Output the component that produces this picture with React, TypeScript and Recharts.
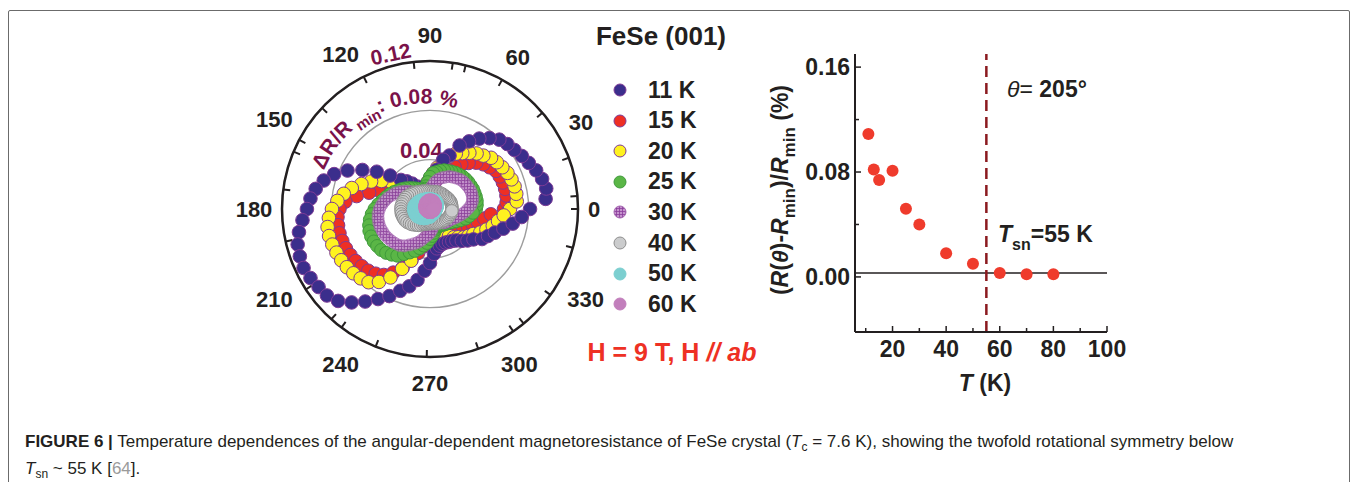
import React from 'react';
import {
  RadarChart,
  Radar,
  PolarGrid,
  PolarAngleAxis,
  PolarRadiusAxis,
  ScatterChart,
  Scatter,
  XAxis,
  YAxis,
  ReferenceLine,
} from 'recharts';

// angle of each measurement (degrees)
const angles = [
  0, 5, 10, 15, 20, 25, 30, 35, 40, 45, 50, 55,
  60, 65, 70, 75, 80, 85, 90, 95, 100, 105, 110, 115,
  120, 125, 130, 135, 140, 145, 150, 155, 160, 165, 170, 175,
  180, 185, 190, 195, 200, 205, 210, 215, 220, 225, 230, 235,
  240, 245, 250, 255, 260, 265, 270, 275, 280, 285, 290, 295,
  300, 305, 310, 315, 320, 325, 330, 335, 340, 345, 350, 355,
];

// ΔR/Rmin (%) per temperature
const mr11K = [
  0.0811, 0.0941, 0.0957, 0.0941, 0.0916, 0.0884, 0.0860, 0.0835, 0.0819, 0.0795, 0.0750, 0.0697,
  0.0633, 0.0568, 0.0462, 0.0414, 0.0324, 0.0260, 0.0178, 0.0138, 0.0122, 0.0130, 0.0146, 0.0178,
  0.0211, 0.0251, 0.0292, 0.0333, 0.0422, 0.0527, 0.0633, 0.0738, 0.0827, 0.0892, 0.0941, 0.0973,
  0.0998, 0.1038, 0.1079, 0.1111, 0.1123, 0.1131, 0.1119, 0.1103, 0.1091, 0.1054, 0.0989, 0.0916,
  0.0843, 0.0779, 0.0706, 0.0649, 0.0584, 0.0503, 0.0438, 0.0365, 0.0324, 0.0308, 0.0300, 0.0300,
  0.0308, 0.0316, 0.0333, 0.0365, 0.0397, 0.0430, 0.0487, 0.0519, 0.0560, 0.0616, 0.0681, 0.0746,
];
const mr15K = [
  0.0600, 0.0624, 0.0629, 0.0631, 0.0629, 0.0624, 0.0618, 0.0590, 0.0564, 0.0531, 0.0487, 0.0442,
  0.0397, 0.0349, 0.0300, 0.0260, 0.0219, 0.0187, 0.0162, 0.0146, 0.0138, 0.0134, 0.0138, 0.0142,
  0.0146, 0.0154, 0.0166, 0.0182, 0.0211, 0.0235, 0.0300, 0.0373, 0.0446, 0.0511, 0.0604, 0.0689,
  0.0734, 0.0753, 0.0757, 0.0760, 0.0757, 0.0753, 0.0745, 0.0736, 0.0722, 0.0708, 0.0685, 0.0653,
  0.0596, 0.0527, 0.0442, 0.0369, 0.0308, 0.0268, 0.0235, 0.0223, 0.0219, 0.0223, 0.0227, 0.0231,
  0.0239, 0.0247, 0.0255, 0.0268, 0.0280, 0.0292, 0.0312, 0.0341, 0.0369, 0.0401, 0.0446, 0.0495,
];
const mr20K = [
  0.0649, 0.0706, 0.0710, 0.0710, 0.0703, 0.0693, 0.0677, 0.0661, 0.0646, 0.0612, 0.0588, 0.0556,
  0.0523, 0.0495, 0.0454, 0.0397, 0.0341, 0.0292, 0.0251, 0.0219, 0.0195, 0.0182, 0.0178, 0.0187,
  0.0203, 0.0219, 0.0235, 0.0276, 0.0324, 0.0381, 0.0454, 0.0527, 0.0592, 0.0657, 0.0710, 0.0754,
  0.0795, 0.0823, 0.0843, 0.0847, 0.0843, 0.0837, 0.0831, 0.0823, 0.0811, 0.0795, 0.0775, 0.0722,
  0.0641, 0.0535, 0.0446, 0.0333, 0.0260, 0.0219, 0.0203, 0.0195, 0.0195, 0.0199, 0.0207, 0.0215,
  0.0235, 0.0268, 0.0300, 0.0324, 0.0357, 0.0381, 0.0406, 0.0450, 0.0487, 0.0527, 0.0560, 0.0600,
];
const mr25K = [
  0.0373, 0.0381, 0.0385, 0.0385, 0.0384, 0.0384, 0.0381, 0.0380, 0.0377, 0.0373, 0.0365, 0.0359,
  0.0349, 0.0341, 0.0334, 0.0320, 0.0304, 0.0292, 0.0260, 0.0219, 0.0187, 0.0170, 0.0162, 0.0170,
  0.0187, 0.0203, 0.0219, 0.0239, 0.0260, 0.0280, 0.0300, 0.0324, 0.0349, 0.0369, 0.0393, 0.0422,
  0.0450, 0.0474, 0.0495, 0.0511, 0.0523, 0.0527, 0.0527, 0.0523, 0.0517, 0.0503, 0.0483, 0.0462,
  0.0422, 0.0389, 0.0361, 0.0328, 0.0300, 0.0276, 0.0243, 0.0219, 0.0195, 0.0174, 0.0162, 0.0154,
  0.0154, 0.0158, 0.0166, 0.0174, 0.0182, 0.0191, 0.0211, 0.0235, 0.0264, 0.0300, 0.0324, 0.0349,
];
const mr30K = [
  0.0308, 0.0333, 0.0349, 0.0357, 0.0361, 0.0361, 0.0357, 0.0353, 0.0349, 0.0341, 0.0328, 0.0316,
  0.0304, 0.0284, 0.0268, 0.0247, 0.0219, 0.0187, 0.0154, 0.0130, 0.0114, 0.0105, 0.0105, 0.0114,
  0.0130, 0.0150, 0.0170, 0.0195, 0.0223, 0.0251, 0.0280, 0.0308, 0.0328, 0.0353, 0.0373, 0.0393,
  0.0410, 0.0422, 0.0428, 0.0430, 0.0430, 0.0426, 0.0422, 0.0414, 0.0406, 0.0397, 0.0385, 0.0365,
  0.0337, 0.0312, 0.0288, 0.0260, 0.0231, 0.0211, 0.0195, 0.0170, 0.0146, 0.0130, 0.0122, 0.0122,
  0.0126, 0.0134, 0.0146, 0.0158, 0.0166, 0.0174, 0.0182, 0.0195, 0.0215, 0.0235, 0.0260, 0.0284,
];
const mr40K = [
  0.0178, 0.0178, 0.0178, 0.0178, 0.0178, 0.0174, 0.0170, 0.0166, 0.0162, 0.0158, 0.0158, 0.0154,
  0.0154, 0.0150, 0.0146, 0.0146, 0.0142, 0.0142, 0.0142, 0.0142, 0.0146, 0.0150, 0.0154, 0.0158,
  0.0162, 0.0170, 0.0178, 0.0187, 0.0195, 0.0203, 0.0211, 0.0219, 0.0223, 0.0227, 0.0231, 0.0235,
  0.0235, 0.0235, 0.0235, 0.0231, 0.0227, 0.0223, 0.0215, 0.0203, 0.0195, 0.0182, 0.0170, 0.0162,
  0.0150, 0.0138, 0.0130, 0.0126, 0.0122, 0.0118, 0.0118, 0.0118, 0.0118, 0.0118, 0.0122, 0.0126,
  0.0130, 0.0134, 0.0138, 0.0142, 0.0146, 0.0154, 0.0158, 0.0162, 0.0166, 0.0170, 0.0174, 0.0178,
];
const mr50K = [
  0.0049, 0.0053, 0.0057, 0.0057, 0.0061, 0.0065, 0.0065, 0.0069, 0.0073, 0.0077, 0.0077, 0.0081,
  0.0081, 0.0081, 0.0081, 0.0081, 0.0081, 0.0081, 0.0081, 0.0081, 0.0081, 0.0085, 0.0085, 0.0089,
  0.0089, 0.0093, 0.0097, 0.0101, 0.0105, 0.0109, 0.0114, 0.0118, 0.0122, 0.0126, 0.0130, 0.0130,
  0.0130, 0.0130, 0.0130, 0.0126, 0.0126, 0.0122, 0.0122, 0.0114, 0.0109, 0.0105, 0.0097, 0.0093,
  0.0089, 0.0081, 0.0077, 0.0073, 0.0069, 0.0065, 0.0065, 0.0061, 0.0057, 0.0053, 0.0053, 0.0049,
  0.0049, 0.0049, 0.0045, 0.0045, 0.0045, 0.0045, 0.0045, 0.0045, 0.0045, 0.0045, 0.0049, 0.0049,
];
const mr60K = [
  0.0032, 0.0032, 0.0036, 0.0036, 0.0041, 0.0041, 0.0045, 0.0049, 0.0049, 0.0053, 0.0057, 0.0057,
  0.0061, 0.0065, 0.0065, 0.0069, 0.0069, 0.0069, 0.0069, 0.0069, 0.0069, 0.0065, 0.0065, 0.0061,
  0.0061, 0.0057, 0.0053, 0.0049, 0.0049, 0.0045, 0.0041, 0.0041, 0.0036, 0.0036, 0.0036, 0.0036,
  0.0036, 0.0032, 0.0032, 0.0032, 0.0032, 0.0028, 0.0028, 0.0028, 0.0024, 0.0024, 0.0024, 0.0024,
  0.0024, 0.0024, 0.0024, 0.0024, 0.0024, 0.0024, 0.0024, 0.0024, 0.0024, 0.0024, 0.0024, 0.0024,
  0.0024, 0.0024, 0.0024, 0.0024, 0.0024, 0.0024, 0.0024, 0.0028, 0.0028, 0.0028, 0.0028, 0.0032,
];

const angleTicks = [0, 30, 60, 90, 120, 150, 180, 210, 240, 270, 300, 330];
const angleMinorTicks = [
  0, 15, 30, 45, 60, 75, 90, 105, 120, 135, 150, 165,
  180, 195, 210, 225, 240, 255, 270, 285, 300, 315, 330, 345,
];
const radiusTicks = [0.04, 0.08, 0.12];
const radiusDashTicks = [0.06, 0.1];

// right panel: anisotropy at theta = 205 deg vs temperature
const temps = [11, 13, 15, 20, 25, 30, 40, 50, 60, 70, 80];
const anisotropy = [0.109, 0.082, 0.074, 0.081, 0.052, 0.040, 0.018, 0.010, 0.003, 0.002, 0.002];
const xTicks = [10, 20, 30, 40, 50, 60, 70, 80, 90, 100];
const xLabels = [20, 40, 60, 80, 100];
const yTicks = [0, 0.04, 0.08, 0.12, 0.16];
const yLabels = [0, 0.08, 0.16];

const FONT = '"Liberation Sans", Arial, Helvetica, sans-serif';
const INK = '#231f20';
const MAROON = '#7a1249';
const RED = '#ee3124';

const SERIES = [
  { key: 'k11', name: '11 K', values: mr11K, fill: '#3b2e8c', stroke: '#7d3b96', r: 6.8 },
  { key: 'k15', name: '15 K', values: mr15K, fill: '#ee2f24', stroke: '#7d3b96', r: 6.8 },
  { key: 'k20', name: '20 K', values: mr20K, fill: '#fff21f', stroke: '#7d3b96', r: 6.8 },
  { key: 'k25', name: '25 K', values: mr25K, fill: '#5ab646', stroke: '#3f9a3b', r: 6.5 },
  { key: 'k30', name: '30 K', values: mr30K, fill: 'url(#hatch30)', stroke: '#a466b0', r: 6 },
  { key: 'k40', name: '40 K', values: mr40K, fill: '#cbcccd', stroke: '#8e8e8e', r: 6.3 },
  { key: 'k50', name: '50 K', values: mr50K, fill: '#7ccfd0', stroke: '#7ccfd0', r: 6.3 },
  { key: 'k60', name: '60 K', values: mr60K, fill: '#c27fbc', stroke: '#c27fbc', r: 6.5 },
];
const drawOrder = ['k15', 'k20', 'k11', 'k25', 'k30', 'k40', 'k50', 'k60'];

const polarData = angles.map((angle, i) => {
  const row: any = { angle };
  SERIES.forEach((s) => {
    row[s.key] = s.values[i];
  });
  return row;
});

const scatterData = temps.map((T, i) => ({ T, v: anisotropy[i] }));

// polar chart geometry (local to its svg)
const PCX = 200;
const PCY = 200;
const PR = 148;

const polarPoint = (r: number, deg: number) => {
  const a = (deg * Math.PI) / 180;
  return { x: PCX + r * Math.cos(a), y: PCY - r * Math.sin(a) };
};

const makeDot = (s: any) => (props: any) => {
  const { cx, cy, index } = props;
  if (cx == null || cy == null || Number.isNaN(cx)) return <g key={`${s.key}-${index}`} />;
  return (
    <circle
      key={`${s.key}-${index}`}
      cx={cx}
      cy={cy}
      r={s.r}
      fill={s.fill}
      stroke={s.stroke}
      strokeWidth={1}
      opacity={s.key === 'k30' ? 0.75 : 1}
    />
  );
};

const AngleTick = (props: any) => {
  const v = props.payload?.value;
  const label = String(v);
  const a = (v * Math.PI) / 180;
  const s = Math.abs(Math.sin(a));
  const rr = PR + 10 + label.length * 6 * Math.abs(Math.cos(a)) + 12 * s + 4 * Math.pow(s, 8);
  const p = polarPoint(rr, v);
  return (
    <text x={p.x} y={p.y} dy="0.36em" textAnchor="middle" fontSize={22} fontWeight="bold" fill={INK} fontFamily={FONT}>
      {label}
    </text>
  );
};

const RadiusTick = (props: any) => {
  const { x, y, payload } = props;
  const v = payload.value;
  const r = Math.hypot(x - PCX, y - PCY);
  if (Math.abs(v - 0.08) < 1e-6) {
    // the "ΔR/Rmin : 0.08 %" caption runs along the 0.08 ring, starting a bit further out
    const p0 = polarPoint(r + 14, 160);
    const p1 = polarPoint(r + 4, 66);
    const ra = r + 8;
    return (
      <g>
        <path id="ratioArc" d={`M ${p0.x} ${p0.y} A ${ra} ${ra} 0 0 1 ${p1.x} ${p1.y}`} fill="none" stroke="none" />
        <text fontSize={21} fontWeight="bold" fill={MAROON} fontFamily={FONT}>
          <textPath href="#ratioArc">
            ΔR/R
            <tspan fontSize={15} dy={6}> min</tspan>
            <tspan dy={-6}>: 0.08 %</tspan>
          </textPath>
        </text>
      </g>
    );
  }
  if (Math.abs(v - 0.12) < 1e-6) {
    const tx = x - 12;
    const ty = y - 2;
    return (
      <text x={tx} y={ty} textAnchor="middle" fontSize={21} fontWeight="bold" fill={MAROON} fontFamily={FONT} transform={`rotate(-12 ${tx} ${ty})`}>
        0.12
      </text>
    );
  }
  return (
    <text x={x} y={y - 2} textAnchor="middle" fontSize={22} fontWeight="bold" fill={MAROON} fontFamily={FONT}>
      {v.toFixed(2)}
    </text>
  );
};

const near = (list: number[], v: number) => list.some((m) => Math.abs(m - v) < 1e-9);

const LeftTick = (props: any) => {
  const { x, y, payload } = props;
  const v = payload.value;
  const ax = x + 5;
  const major = near(yLabels, v);
  return (
    <g>
      <line x1={ax} x2={ax + (major ? 6 : 4)} y1={y} y2={y} stroke={INK} strokeWidth={1.5} />
      {major && (
        <text x={x} y={y} dy="0.36em" textAnchor="end" fontSize={23} fontWeight="bold" fill={INK} fontFamily={FONT}>
          {v.toFixed(2)}
        </text>
      )}
    </g>
  );
};

const RightTick = (props: any) => {
  const { x, y, payload } = props;
  const major = near(yLabels, payload.value);
  return <line x1={x} x2={x - (major ? 6 : 4)} y1={y} y2={y} stroke={INK} strokeWidth={1.5} />;
};

const BottomTick = (props: any) => {
  const { x, y, payload } = props;
  const v = payload.value;
  const ay = y - 7.5;
  const major = near(xLabels, v);
  return (
    <g>
      <line x1={x} x2={x} y1={ay} y2={ay - (major ? 6 : 4)} stroke={INK} strokeWidth={1.5} />
      {major && (
        <text x={x} y={y} dy="0.75em" textAnchor="middle" fontSize={23} fontWeight="bold" fill={INK} fontFamily={FONT}>
          {v}
        </text>
      )}
    </g>
  );
};

const TopTick = (props: any) => {
  const { x, y, payload } = props;
  const major = near(xLabels, payload.value);
  return <line x1={x} x2={x} y1={y} y2={y + (major ? 6 : 4)} stroke={INK} strokeWidth={1.5} />;
};

const PolarPanel = () => (
  <RadarChart
    width={400}
    height={400}
    cx={PCX}
    cy={PCY}
    outerRadius={PR}
    startAngle={0}
    endAngle={360}
    data={polarData}
    margin={{ top: 0, right: 0, bottom: 0, left: 0 }}
  >
    <PolarGrid gridType="circle" radialLines={false} stroke="#9d9d9d" strokeWidth={1.4} />
    <PolarGrid gridType="circle" radialLines={false} radiusAxisId="dash" stroke="#c2c2c2" strokeWidth={1.4} strokeDasharray="6 5" />
    <PolarRadiusAxis
      type="number"
      domain={[0, 0.12]}
      ticks={radiusTicks}
      angle={100}
      axisLine={false}
      tickLine={false}
      tick={<RadiusTick />}
    />
    <PolarRadiusAxis
      radiusAxisId="dash"
      type="number"
      domain={[0, 0.12]}
      ticks={radiusDashTicks}
      axisLine={false}
      tickLine={false}
      tick={false}
    />
    {drawOrder.map((k) => {
      const s = SERIES.find((x) => x.key === k)!;
      return (
        <Radar
          key={s.key}
          name={s.name}
          dataKey={s.key}
          stroke="none"
          fill="none"
          fillOpacity={0}
          dot={makeDot(s)}
          activeDot={false}
          isAnimationActive={false}
        />
      );
    })}
    <PolarAngleAxis
      dataKey="angle"
      type="number"
      domain={[0, 360]}
      ticks={angleTicks}
      tickLine={false}
      axisLineType="circle"
      axisLine={{ stroke: INK, strokeWidth: 2.5 }}
      tick={<AngleTick />}
    />
    <PolarAngleAxis
      angleAxisId="minor"
      type="number"
      domain={[0, 360]}
      ticks={angleMinorTicks}
      orientation="inner"
      tickSize={7}
      axisLine={false}
      tickLine={{ stroke: INK, strokeWidth: 2 }}
      tick={false}
    />
  </RadarChart>
);

const TemperaturePanel = () => (
  <ScatterChart width={390} height={322} margin={{ top: 14, right: 43, bottom: 0, left: 0 }}>
    <XAxis
      dataKey="T"
      type="number"
      domain={[6, 100]}
      ticks={xTicks}
      height={30}
      tickSize={0}
      tickMargin={7.5}
      tickLine={false}
      axisLine={{ stroke: INK, strokeWidth: 2 }}
      tick={<BottomTick />}
      interval={0}
    />
    <XAxis
      xAxisId="top"
      orientation="top"
      type="number"
      domain={[6, 100]}
      ticks={xTicks}
      height={0}
      tickSize={0}
      tickMargin={0}
      tickLine={false}
      axisLine={{ stroke: INK, strokeWidth: 2 }}
      tick={<TopTick />}
      interval={0}
    />
    <YAxis
      dataKey="v"
      type="number"
      domain={[-0.042, 0.17]}
      ticks={yTicks}
      width={95}
      tickSize={0}
      tickMargin={5}
      tickLine={false}
      axisLine={{ stroke: INK, strokeWidth: 2 }}
      tick={<LeftTick />}
      interval={0}
    />
    <YAxis
      yAxisId="right"
      orientation="right"
      type="number"
      domain={[-0.042, 0.17]}
      ticks={yTicks}
      width={0}
      tickSize={0}
      tickMargin={0}
      tickLine={false}
      axisLine={{ stroke: INK, strokeWidth: 2 }}
      tick={<RightTick />}
      interval={0}
    />
    <ReferenceLine y={0.003} stroke={INK} strokeWidth={1.5} />
    <ReferenceLine x={55} stroke="#8b1a1f" strokeWidth={2.5} strokeDasharray="11 6" />
    <Scatter
      data={scatterData}
      fill="#ef3b2c"
      isAnimationActive={false}
      shape={(p: any) => <circle cx={p.cx} cy={p.cy} r={6} fill="#ef3b2c" />}
    />
  </ScatterChart>
);

const Legend = () => (
  <div style={{ position: 'absolute', left: 610, top: 75 }}>
    {SERIES.map((s, i) => (
      <div
        key={s.key}
        style={{ position: 'absolute', left: 0, top: i * 30.6, height: 30, display: 'flex', alignItems: 'center', whiteSpace: 'nowrap' }}
      >
        <svg width={20} height={20}>
          <circle cx={10} cy={10} r={6} fill={s.fill} stroke={s.stroke} strokeWidth={1} />
        </svg>
        <span style={{ marginLeft: 18, fontFamily: FONT, fontWeight: 'bold', fontSize: 23, color: INK }}>{s.name}</span>
      </div>
    ))}
  </div>
);

const Annotations = () => (
  <svg width={1356} height={482} style={{ position: 'absolute', left: 0, top: 0, pointerEvents: 'none' }} fontFamily={FONT} fontWeight="bold">
    <text x={661} y={45} textAnchor="middle" fontSize={26} fill={INK}>
      FeSe (001)
    </text>
    <text x={672} y={361} textAnchor="middle" fontSize={25} fill={RED}>
      H = 9 T, H <tspan fontStyle="italic">//</tspan> <tspan fontStyle="italic">ab</tspan>
    </text>
    <text x={1007} y={97} fontSize={23} fill={INK}>
      <tspan fontStyle="italic" fontWeight="normal">θ</tspan>
      <tspan fontWeight="normal">=</tspan> 205°
    </text>
    <text x={998} y={242} fontSize={23} fill={INK}>
      <tspan fontStyle="italic">T</tspan>
      <tspan fontSize={16} dy={8} dx={0}>sn</tspan>
      <tspan dy={-8}>=55 K</tspan>
    </text>
    <text x={985} y={391} textAnchor="middle" fontSize={23} fill={INK}>
      <tspan fontStyle="italic">T</tspan> (K)
    </text>
    <text x={788} y={190} textAnchor="middle" fontSize={23} fill={INK} transform="rotate(-90 788 190)">
      (<tspan fontStyle="italic">R</tspan>(<tspan fontStyle="italic">θ</tspan>)-<tspan fontStyle="italic">R</tspan>
      <tspan fontSize={17} dy={7}>min</tspan>
      <tspan dy={-7}>)/</tspan>
      <tspan fontStyle="italic">R</tspan>
      <tspan fontSize={17} dy={7}>min</tspan>
      <tspan dy={-7}> (%)</tspan>
    </text>
  </svg>
);

const subStyle: React.CSSProperties = { fontSize: 12, verticalAlign: 'baseline', position: 'relative', top: 4 };

export default function App() {
  return (
    <div style={{ position: 'absolute', left: 0, top: 0, width: 1356, height: 482, background: '#fff', overflow: 'hidden' }}>
      <svg width={0} height={0} style={{ position: 'absolute' }}>
        <defs>
          <pattern id="hatch30" width={3} height={3} patternUnits="userSpaceOnUse">
            <rect width={3} height={3} fill="#c592cd" />
            <path d="M0 0.5 H3 M0.5 0 V3" stroke="#8a3c9a" strokeWidth={0.8} />
          </pattern>
        </defs>
      </svg>
      <div
        style={{
          position: 'absolute',
          left: 8,
          top: 10,
          width: 1340,
          height: 520,
          border: '1px solid #6b6b6b',
          borderRadius: 2,
        }}
      />
      <div style={{ position: 'absolute', left: 230, top: 9 }}>
        <PolarPanel />
      </div>
      <Legend />
      <div style={{ position: 'absolute', left: 760, top: 40 }}>
        <TemperaturePanel />
      </div>
      <Annotations />
      <div
        style={{
          position: 'absolute',
          left: 25,
          top: 429,
          width: 1310,
          fontFamily: FONT,
          fontSize: 17,
          lineHeight: '26px',
          color: INK,
          whiteSpace: 'nowrap',
        }}
      >
        <b>FIGURE 6 |</b> Temperature dependences of the angular-dependent magnetoresistance of FeSe crystal (
        <i>T</i>
        <span style={subStyle}>c</span> = 7.6 K), showing the twofold rotational symmetry below
        <br />
        <i>T</i>
        <span style={subStyle}>sn</span> ~ 55 K [<span style={{ color: '#9a9a9a' }}>64</span>].
      </div>
    </div>
  );
}
